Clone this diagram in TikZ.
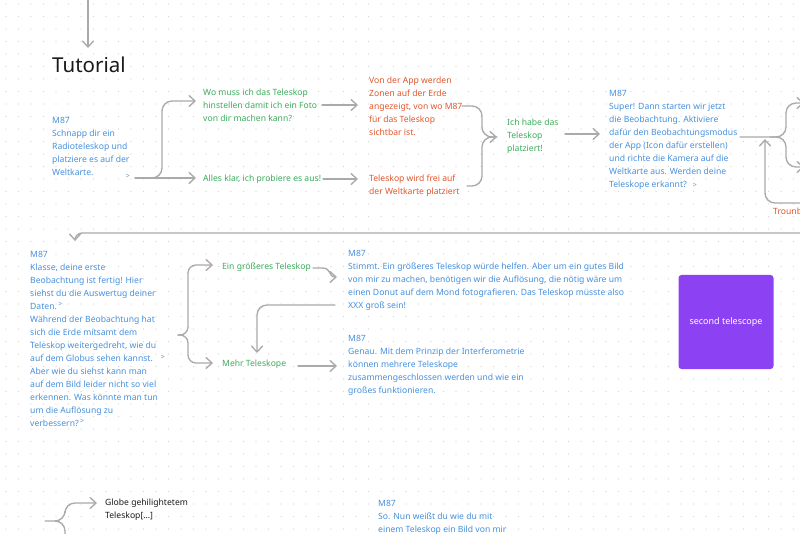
\documentclass[tikz,border=0pt]{standalone}
\usepackage{fontspec}
\setmainfont{Noto Sans}
\usetikzlibrary{arrows.meta,calc}
\definecolor{blueT}{RGB}{70,144,222}
\definecolor{greenT}{RGB}{60,172,92}
\definecolor{redT}{RGB}{226,86,44}
\definecolor{lineG}{RGB}{170,170,170}
\definecolor{dotG}{RGB}{210,210,210}
\definecolor{purpleB}{RGB}{140,66,242}
\definecolor{inkT}{RGB}{26,26,26}
\newcommand{\chev}[1][0pt]{\raisebox{#1}{\fontsize{7}{7}\selectfont >}}
\begin{document}
\begin{tikzpicture}[x=1pt,y=-1pt,
  txt/.style={anchor=north west, inner sep=0pt, align=left, font=\fontsize{8.6}{13}\selectfont},
  bluetxt/.style={txt, text=blueT},
  greentxt/.style={txt, text=greenT},
  redtxt/.style={txt, text=redT},
  conn/.style={draw=lineG, line width=1.35pt, line cap=round, line join=round, rounded corners=10pt},
  arr/.style={conn, -{Straight Barb[length=6pt,width=11pt,line cap=round]}},
  chevnode/.style={inner sep=0pt, font=\fontsize{7}{7}\selectfont}
]
\useasboundingbox (0,0) rectangle (800,534);
\fill[white] (0,0) rectangle (800,534);
\clip (0,0) rectangle (800,534);
% dot grid
\foreach \i in {0,...,64} {
  \foreach \j in {0,...,43} {
    \fill[dotG] ({6+12.5*\i},{4+12.5*\j}) circle (0.6);
  }
}

% ---- nodes ----
\node[anchor=base west, inner sep=0pt, text=inkT, font=\fontsize{20.5}{25}\selectfont] (tut) at (52,73) {Tutorial};

\node[bluetxt] (b1) at (52,117) {M87\\Schnapp dir ein\\Radioteleskop und\\platziere es auf der\\Weltkarte.};
\node[chevnode, text=blueT!70!gray] (gt1) at (128,176) {>};

\node[greentxt] (g1) at (203,89) {Wo muss ich das Teleskop\\hinstellen damit ich ein Foto\\von dir machen kann?};
\node[greentxt] (g2) at (203,175) {Alles klar, ich probiere es aus!};

\node[redtxt] (r1) at (369,77) {Von der App werden\\Zonen auf der Erde\\angezeigt, von wo M87\\für das Teleskop\\sichtbar ist.};
\node[redtxt] (r2) at (369,175) {Teleskop wird frei auf\\der Weltkarte platziert};

\node[greentxt] (g3) at (507,119) {Ich habe das\\Teleskop\\platziert!};

\node[bluetxt] (b2) at (609,90) {M87\\Super! Dann starten wir jetzt\\die Beobachtung. Aktiviere\\dafür den Beobachtungsmodus\\der App (Icon dafür erstellen)\\und richte die Kamera auf die\\Weltkarte aus. Werden deine\\Teleskope erkannt?\hspace{6pt}\chev};

\node[redtxt] (r3) at (773,208) {Trounbleshooting};

\node[bluetxt] (b3) at (30,251) {M87\\Klasse, deine erste\\Beobachtung ist fertig! Hier\\siehst du die Auswertug deiner\\Daten.\,\chev[3pt]\\Während der Beobachtung hat\\sich die Erde mitsamt dem\\Teleskop weitergedreht, wie du\\auf dem Globus sehen kannst.\hspace{8pt}\chev[2pt]\\Aber wie du siehst kann man\\auf dem Bild leider nicht so viel\\erkennen. Was könnte man tun\\um die Auflösung zu\\verbessern?\,\chev[3pt]};

\node[greentxt] (g4) at (222,263) {Ein größeres Teleskop};
\node[greentxt] (g5) at (222,360) {Mehr Teleskope};

\node[bluetxt] (b4) at (348,250) {M87\\Stimmt. Ein größeres Teleskop würde helfen. Aber um ein gutes Bild\\von mir zu machen, benötigen wir die Auflösung, die nötig wäre um\\einen Donut auf dem Mond fotografieren. Das Teleskop müsste also\\XXX groß sein!};
\node[bluetxt] (b5) at (348,335) {M87\\Genau. Mit dem Prinzip der Interferometrie\\können mehrere Teleskope\\zusammengeschlossen werden und wie ein\\großes funktionieren.};

\node[fill=purpleB, rounded corners=3pt, minimum width=95pt, minimum height=94pt, inner sep=0pt,
      text=white, font=\fontsize{9}{11}\selectfont] (tel) at (726,322) {second telescope};

\node[txt, text=inkT] (k1) at (105,499) {Globe gehilightetem\\Teleskop[...]};
\node[bluetxt] (b6) at (378,500) {M87\\So. Nun weißt du wie du mit\\einem Teleskop ein Bild von mir};

% ---- connectors ----
\draw[arr] ($(tut.base west)+(36,-80)$) -- ($(tut.base west)+(36,-25)$);

\draw[arr] ($(gt1.center)+(7,2)$) -- ($(g2.north west)+(-7,3)$);
\draw[arr] ($(gt1.center)+(14,2)$) -- ($(gt1.center)+(34,2)$) -- ($(g1.north west)+(-41,12)$) -- ($(g1.north west)+(-7,12)$);

\draw[arr] ($(g1.north west)+(119,16)$) -- ($(r1.north west)+(-11,28)$);
\draw[arr] ($(g2.north west)+(120,4)$) -- ($(r2.north west)+(-11,4)$);

\draw[arr] ($(r1.north west)+(93,29)$) -- ($(g3.north west)+(-25,-13)$) -- ($(g3.north west)+(-25,18)$) -- ($(g3.north west)+(-10,18)$);
\draw[conn] ($(r2.north west)+(98,11)$) -- ($(g3.north west)+(-25,67)$) -- ($(g3.north west)+(-25,18)$) -- ($(g3.north west)+(-10,18)$);

\draw[arr] ($(g3.north west)+(58,15)$) -- ($(b2.north west)+(-9,44)$);

\draw[arr] ($(b2.north west)+(131,47)$) -- ($(b2.north west)+(177,47)$) -- ($(b2.north west)+(177,13)$) -- ($(b2.north west)+(195,13)$);
\draw[arr] ($(b2.north west)+(161,47)$) -- ($(b2.north west)+(177,47)$) -- ($(b2.north west)+(177,77)$) -- ($(b2.north west)+(195,77)$);

\draw[arr] ($(r3.north west)+(40,-5)$) -- ($(r3.north west)+(-8,-5)$) -- ($(r3.north west)+(-8,-69)$);

\draw[arr, rounded corners=7pt] ($(b3.north west)+(785,-18)$) -- ($(b3.north west)+(45,-18)$) -- ($(b3.north west)+(45,-10)$);

\draw[arr, rounded corners=8pt] ($(b3.north west)+(148,84)$) -- ($(b3.north west)+(158,84)$) -- ($(g4.north west)+(-34,2)$) -- ($(g4.north west)+(-9,2)$);
\draw[arr, rounded corners=8pt] ($(b3.north west)+(148,84)$) -- ($(b3.north west)+(158,84)$) -- ($(g5.north west)+(-34,3)$) -- ($(g5.north west)+(-9,3)$);

\draw[arr, rounded corners=0pt] ($(g4.north west)+(91,5)$) -- ($(g4.north west)+(100,5)$) .. controls ($(g4.north west)+(110,5)$) and ($(g4.north west)+(106,14)$) .. ($(b4.north west)+(-11,27)$);

\draw[arr] ($(b4.north west)+(-13,55)$) -- ($(b4.north west)+(-91,55)$) -- ($(g5.north west)+(35,-7)$);

\draw[arr] ($(g5.north west)+(76,6)$) -- ($(b5.north west)+(-11,31)$);

\draw[arr] ($(k1.north west)+(-60,22)$) -- ($(k1.north west)+(-40,22)$) -- ($(k1.north west)+(-40,4)$) -- ($(k1.north west)+(-8,4)$);
\draw[arr] ($(k1.north west)+(-50,22)$) -- ($(k1.north west)+(-40,22)$) -- ($(k1.north west)+(-40,50)$) -- ($(k1.north west)+(-8,50)$);
\end{tikzpicture}
\end{document}
